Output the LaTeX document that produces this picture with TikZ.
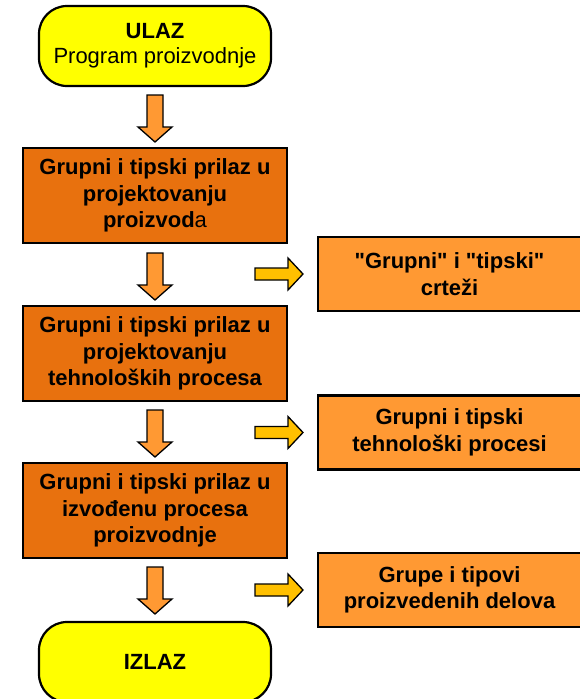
\documentclass[tikz,border=0pt]{standalone}
\usepackage{fontspec}
\setmainfont{Liberation Sans}[Ligatures=TeXOff]
\usetikzlibrary{positioning, calc}
\definecolor{termyel}{RGB}{255,255,0}
\definecolor{ordark}{RGB}{232,113,14}
\definecolor{orlight}{RGB}{255,153,51}
\definecolor{amber}{RGB}{255,192,0}

\begin{document}
\begin{tikzpicture}[
        x=1pt, y=-1pt,
        node distance=62pt,
        term/.style={rectangle, rounded corners=28pt, draw=black, line width=2.2pt, outer sep=0pt, fill=termyel, minimum width=232pt, minimum height=80pt, align=center, font=\fontsize{22}{25}\selectfont},
        stepbox/.style={rectangle, draw=black, line width=2.2pt, outer sep=0pt, fill=ordark, minimum width=264pt, minimum height=95pt, align=center, font=\fontsize{22}{26.5}\selectfont\bfseries},
        outbox/.style={rectangle, draw=black, line width=2.2pt, outer sep=0pt, fill=orlight, minimum width=263pt, minimum height=74pt, align=center, font=\fontsize{22}{26.5}\selectfont\bfseries},
        pics/dnarrow/.style={code={\draw[line width=1.3pt, fill=orlight] (-8,0) -- (8,0) -- (8,32) -- (17,32) -- (0,47) -- (-17,32) -- (-8,32) -- cycle;}},
        pics/rtarrow/.style={code={\draw[line width=1.3pt, fill=amber] (0,-6) -- (33,-6) -- (33,-16) -- (48,0) -- (33,16) -- (33,6) -- (0,6) -- cycle;}}
    ]
        \useasboundingbox (0,0) rectangle (579,699);

        % Main column
        \node[term] (ulaz) at (155,46) {\textbf{ULAZ}\\Program proizvodnje};
        \node[stepbox, below=62pt of ulaz] (proj) {Grupni i tipski prilaz u\\projektovanju\\proizvod{\mdseries a}};
        \node[stepbox, below=63pt of proj] (tehn) {Grupni i tipski prilaz u\\projektovanju\\tehnoloških procesa};
        \node[stepbox, below=62pt of tehn] (izvo) {Grupni i tipski prilaz u\\izvođenu procesa\\proizvodnje};
        \node[term, below=64pt of izvo, font=\fontsize{22}{25}\selectfont\bfseries] (izlaz) {IZLAZ};

        % Results
        \node[outbox] (crt) at (449.5,274) {"Grupni" i "tipski"\\crteži};
        \node[outbox] (tproc) at (449.5,432.5) {Grupni i tipski\\tehnološki procesi};
        \node[outbox] (delovi) at (449.5,590) {Grupe i tipovi\\proizvedenih delova};

        % Block arrows
        \pic at ($(ulaz.south)+(0,9)$) {dnarrow};
        \pic at ($(proj.south)+(0,10)$) {dnarrow};
        \pic at ($(tehn.south)+(0,9)$) {dnarrow};
        \pic at ($(izvo.south)+(0,9)$) {dnarrow};
        \pic at ($(crt.west)+(-63,0)$) {rtarrow};
        \pic at ($(tproc.west)+(-63,0)$) {rtarrow};
        \pic at ($(delovi.west)+(-63,0)$) {rtarrow};
    \end{tikzpicture}
\end{document}
